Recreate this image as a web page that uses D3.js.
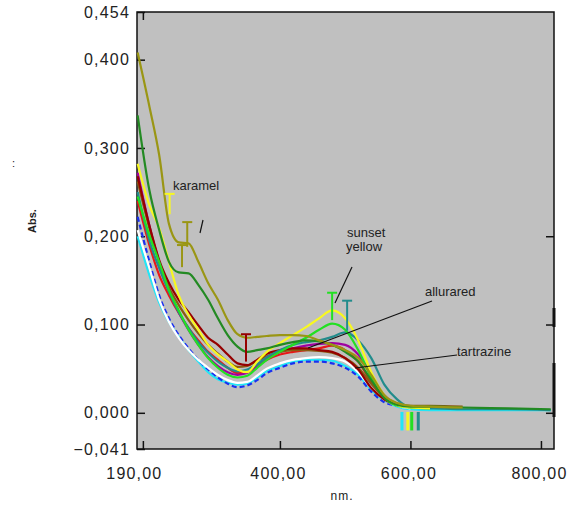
<!DOCTYPE html>
<html><head><meta charset="utf-8">
<script src="https://cdn.jsdelivr.net/npm/d3@7"></script>
<style>
html,body{margin:0;padding:0;background:#fff;}
svg{display:block;}
text{font-family:"Liberation Sans",Arial,sans-serif;fill:#222;}
</style></head>
<body><svg id="c" width="579" height="506"></svg>
<script>
// wavelengths (nm)
const wavelengths = [182,200,215,230,245,260,275,290,305,320,335,350,365,380,400,420,440,460,480,500,520,540,560,580,600,630,680,750,815];
// series (absorbance)
const cyan     = [0.200,0.156,0.125,0.103,0.086,0.071,0.058,0.046,0.038,0.034,0.032,0.033,0.040,0.047,0.053,0.058,0.060,0.060,0.059,0.053,0.043,0.026,0.014,0.007,0.004,0.003,0.003,0.003,0.003];
const blue     = [0.222,0.171,0.133,0.107,0.088,0.073,0.060,0.049,0.040,0.033,0.029,0.031,0.037,0.045,0.051,0.056,0.058,0.058,0.056,0.051,0.041,0.024,0.012,0.008,0.005,null,null,null,null];
const white    = [0.207,0.164,0.128,0.103,0.085,0.071,0.060,0.051,0.043,0.037,0.034,0.035,0.042,0.050,0.056,0.060,0.062,0.063,0.062,0.058,0.046,0.028,0.015,0.008,0.005,null,null,null,null];
const red      = [0.240,0.190,0.156,0.133,0.113,0.096,0.082,0.069,0.060,0.051,0.045,0.046,0.053,0.060,0.066,0.069,0.071,0.073,0.076,0.071,0.058,0.035,0.017,0.009,0.007,0.006,null,null,null];
const purple   = [0.272,0.212,0.171,0.139,0.114,0.094,0.077,0.063,0.053,0.046,0.043,0.045,0.054,0.062,0.069,0.073,0.076,0.078,0.079,0.077,0.066,0.043,0.020,0.010,0.007,0.006,null,null,null];
const brown    = [0.262,0.209,0.171,0.142,0.122,0.105,0.090,0.077,0.067,0.058,0.052,0.053,0.059,0.064,0.069,0.071,0.071,0.070,0.068,0.062,0.051,0.033,0.017,0.010,0.008,0.008,0.007,null,null];
const maroon   = [0.268,0.212,0.173,0.147,0.128,0.114,0.099,0.085,0.077,0.066,0.056,0.054,0.060,0.067,0.071,0.073,0.073,0.071,0.069,0.062,0.049,0.028,0.015,0.009,0.007,0.006,null,null,null];
const teal     = [0.250,0.195,0.164,0.137,0.114,0.096,0.080,0.068,0.058,0.051,0.047,0.049,0.055,0.063,0.071,0.077,0.080,0.082,0.086,0.091,0.082,0.062,0.032,0.015,0.006,0.005,0.004,0.004,0.003];
const green    = [0.245,0.201,0.171,0.139,0.116,0.094,0.077,0.062,0.051,0.043,0.040,0.042,0.051,0.060,0.069,0.077,0.085,0.094,0.101,0.094,0.071,0.040,0.017,0.008,0.006,0.005,null,null,null];
const yellow   = [0.282,0.235,0.209,0.171,0.133,0.111,0.094,0.077,0.066,0.058,0.049,0.046,0.058,0.069,0.079,0.088,0.097,0.107,0.116,0.107,0.082,0.046,0.020,0.009,0.006,0.005,null,null,null];
const darkGreen= [0.337,0.252,0.207,0.171,0.159,0.158,0.145,0.128,0.107,0.088,0.075,0.069,0.071,0.073,0.077,0.080,0.082,0.081,0.077,0.069,0.058,0.037,0.017,0.009,0.007,0.007,0.006,0.005,0.004];
const karamel  = [0.408,0.347,0.292,0.214,0.193,0.192,0.171,0.147,0.128,0.105,0.089,0.085,0.086,0.087,0.088,0.088,0.087,0.082,0.077,0.071,0.062,0.043,0.020,0.011,0.008,0.007,0.006,null,null];

const seriesNames  = ["cyan","blue","white","red","purple","brown","maroon","teal","green","yellow","darkGreen","karamel"];
const seriesValues = [cyan,blue,white,red,purple,brown,maroon,teal,green,yellow,darkGreen,karamel];
const seriesColors = ["#22e6f6","#1a30f0","#ffffff","#e81818","#a000a0","#8a5a12","#960000","#228c8c","#22e022","#f8f820","#238a23","#9a9614"];

// error bars: wavelength, high, low
const barW   = [258, 250, 348, 480, 503, 231];
const barHi  = [0.216, 0.190, 0.089, 0.136, 0.127, 0.248];
const barLo  = [0.188, 0.165, 0.058, 0.105, 0.093, 0.225];
const barCol = ["#9a9614","#9a9614","#960000","#22e022","#228c8c","#f8f820"];
// drops below the baseline
const dropW   = [587, 596, 602, 612];
const dropCol = ["#22e6f6","#f8f820","#22e022","#228c8c"];
const dropHi  = 0.001, dropLo = -0.020;

const yTicks = [0.454,0.4,0.3,0.2,0.1,0,-0.041];
const xTicks = [190,400,600,800];

const L=137,R=554,T=12,B=449;
const x = d3.scaleLinear().domain([181,820]).range([L,R]);
const y = d3.scaleLinear().domain([-0.041,0.454]).range([B,T]);
const svg = d3.select("#c");

svg.append("rect").attr("x",L).attr("y",T).attr("width",R-L).attr("height",B-T).attr("fill","#c0c0c0");

const fmt = v => d3.format(".3f")(v).replace(".",",");
const fmtx = v => d3.format(".2f")(v).replace(".",",");

// axes
const gl = svg.append("g").attr("transform",`translate(${L},0)`)
  .call(d3.axisLeft(y).tickValues(yTicks).tickFormat(fmt).tickSizeInner(-8).tickSizeOuter(0).tickPadding(7));
const gr = svg.append("g").attr("transform",`translate(${R},0)`)
  .call(d3.axisRight(y).tickValues([0.2,0.1,0]).tickFormat("").tickSizeInner(-8).tickSizeOuter(0));
const gb = svg.append("g").attr("transform",`translate(0,${B})`)
  .call(d3.axisBottom(x).tickValues(xTicks).tickFormat(fmtx).tickSizeInner(-8).tickSizeOuter(0).tickPadding(19));
const gt = svg.append("g").attr("transform",`translate(0,${T})`)
  .call(d3.axisTop(x).tickValues([190]).tickFormat("").tickSizeInner(-8).tickSizeOuter(0));
[gl,gr,gb,gt].forEach(g=>{
  g.select(".domain").remove();
  g.selectAll(".tick line").attr("stroke","#111").attr("stroke-width",1.5);
  g.selectAll("text").attr("font-family","Liberation Sans, Arial, sans-serif").attr("font-size",16).attr("letter-spacing","1.2px").attr("fill","#222");
});
gb.selectAll(".tick text").attr("dx",(d,i)=> i===0 ? -9 : -2);

// frame
svg.append("rect").attr("x",L).attr("y",T).attr("width",R-L).attr("height",B-T).attr("fill","none").attr("stroke","#111").attr("stroke-width",1.5);
// thick marks on the right border (scan artefacts)
svg.append("line").attr("x1",R).attr("x2",R).attr("y1",308).attr("y2",327).attr("stroke","#111").attr("stroke-width",3);
svg.append("line").attr("x1",R).attr("x2",R).attr("y1",363).attr("y2",417).attr("stroke","#111").attr("stroke-width",3);

// lines
const line = d3.line().defined(d=>d[1]!==null).x(d=>x(d[0])).y(d=>y(d[1])).curve(d3.curveMonotoneX);
const gLines = svg.append("g");
seriesValues.forEach((vals,i)=>{
  const pts = wavelengths.map((w,j)=>[w,vals[j]]);
  gLines.append("path").attr("d",line(pts)).attr("fill","none")
    .attr("stroke",seriesColors[i]).attr("stroke-width",2.2)
    .attr("stroke-dasharray", seriesNames[i]==="blue" ? "5,3" : null);
});

// error bars
barW.forEach((w,i)=>{
  const g = svg.append("g").attr("stroke",barCol[i]).attr("stroke-width",2);
  g.append("line").attr("x1",x(w)).attr("x2",x(w)).attr("y1",y(barHi[i])).attr("y2",y(barLo[i]));
  g.append("line").attr("x1",x(w)-5).attr("x2",x(w)+5).attr("y1",y(barHi[i])).attr("y2",y(barHi[i]));
});
dropW.forEach((w,i)=>{
  svg.append("line").attr("x1",x(w)).attr("x2",x(w)).attr("y1",y(dropHi)).attr("y2",y(dropLo))
    .attr("stroke",dropCol[i]).attr("stroke-width",3);
});

// annotations
const ann = svg.append("g").attr("font-size",13);
ann.append("text").attr("x",173).attr("y",190).text("karamel");
ann.append("text").attr("x",347).attr("y",237).text("sunset");
ann.append("text").attr("x",346).attr("y",251).text("yellow");
ann.append("text").attr("x",425).attr("y",296).text("allurared");
ann.append("text").attr("x",457).attr("y",356).text("tartrazine");
const lk = svg.append("g").attr("stroke","#111").attr("stroke-width",1.2);
lk.append("line").attr("x1",203).attr("y1",220).attr("x2",200).attr("y2",233);
lk.append("line").attr("x1",352).attr("y1",267).attr("x2",335).attr("y2",303);
lk.append("line").attr("x1",432).attr("y1",301).attr("x2",308).attr("y2",348);
lk.append("line").attr("x1",457).attr("y1",355).attr("x2",355).attr("y2",368);

// axis titles
svg.append("text").attr("transform","translate(36,221) rotate(-90)").attr("text-anchor","middle")
  .attr("font-size",11).attr("font-weight","bold").text("Abs.");
svg.append("text").attr("x",342).attr("y",500).attr("text-anchor","middle").attr("font-size",12).attr("letter-spacing","1px").text("nm.");
svg.append("text").attr("x",12).attr("y",167).attr("font-size",11).text(":");
</script></body></html>
